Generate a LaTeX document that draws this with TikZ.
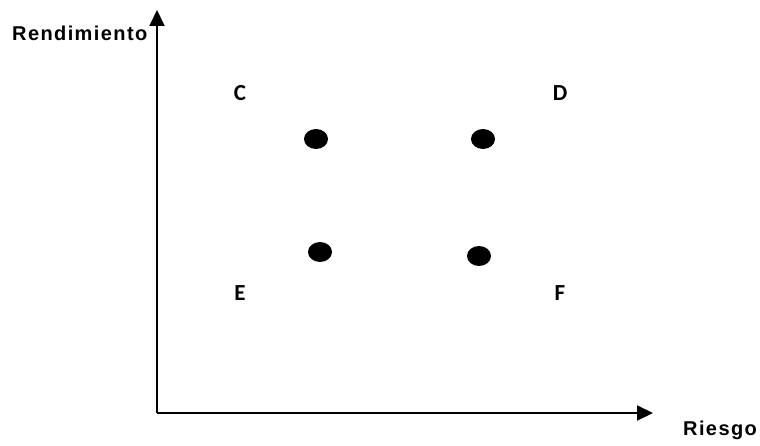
\documentclass[tikz,border=0pt]{standalone}
\usepackage{fontspec}
\setmainfont{Liberation Sans}
\newfontfamily\carl{Carlito}
\usetikzlibrary{arrows.meta,shapes.geometric}
\begin{document}
\begin{tikzpicture}[x=1pt,y=-1pt,
  axis/.style={line width=2pt,-{Triangle[width=15pt,length=16pt]}},
  dot/.style={ellipse,fill=black,minimum width=24pt,minimum height=20pt,inner sep=0pt},
  axlabel/.style={font=\fontsize{20}{24}\selectfont\bfseries\addfontfeature{LetterSpace=7},inner sep=0pt,anchor=base west},
  quad/.style={font=\carl\fontsize{23}{26}\selectfont\bfseries,inner sep=0pt}]
\useasboundingbox (0,0) rectangle (760,446);
\coordinate (O) at (157,413);
\coordinate (ytip) at (157,10);
\coordinate (xtip) at (653,413);
\draw[axis] (O) -- (ytip);
\draw[axis] (O) -- (xtip);
\node[axlabel] (ylab) at (12,40.5) {Rendimiento};
\node[axlabel] (xlab) at (683,435) {Riesgo};
\node[quad] (C) at (240,93) {C};
\node[quad] (D) at (560,93) {D};
\node[quad] (E) at (240,293) {E};
\node[quad] (F) at (560,293) {F};
\node[dot] (d1) at (316,139) {};
\node[dot] (d2) at (483,139) {};
\node[dot] (d3) at (320,252) {};
\node[dot] (d4) at (479,256) {};
\end{tikzpicture}
\end{document}
